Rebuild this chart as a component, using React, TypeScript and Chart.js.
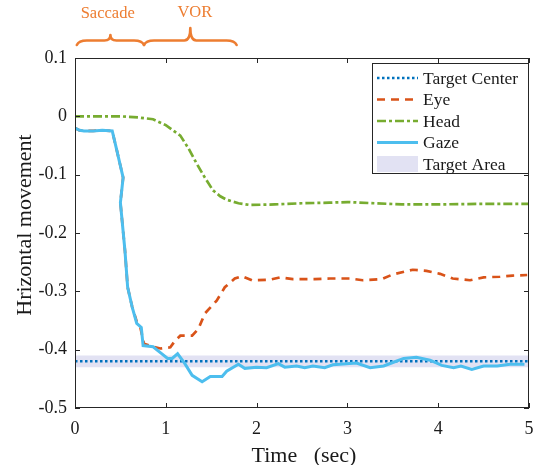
import React, { useEffect, useRef } from "react";
import { Chart, registerables } from "chart.js";

Chart.register(...registerables);

// ---- data ----
const gazeT = [0, 0.05, 0.1, 0.2, 0.3, 0.41, 0.46, 0.53, 0.5, 0.55, 0.58, 0.63, 0.68, 0.73, 0.75, 0.86, 0.94, 1.02, 1.07, 1.13, 1.21, 1.29, 1.4, 1.49, 1.62, 1.67, 1.8, 1.87, 2.0, 2.11, 2.24, 2.31, 2.44, 2.53, 2.62, 2.75, 2.84, 3.1, 3.25, 3.4, 3.5, 3.62, 3.76, 3.91, 4.04, 4.17, 4.25, 4.37, 4.5, 4.65, 4.79, 4.95];
const gazeY = [-0.02, -0.024, -0.025, -0.025, -0.024, -0.025, -0.058, -0.105, -0.148, -0.23, -0.293, -0.327, -0.355, -0.362, -0.393, -0.395, -0.405, -0.415, -0.415, -0.407, -0.424, -0.444, -0.455, -0.446, -0.446, -0.437, -0.425, -0.432, -0.43, -0.431, -0.424, -0.43, -0.428, -0.431, -0.428, -0.431, -0.426, -0.423, -0.431, -0.428, -0.422, -0.415, -0.413, -0.418, -0.427, -0.431, -0.428, -0.434, -0.428, -0.428, -0.425, -0.425];

const eyeT = [0, 0.05, 0.1, 0.2, 0.3, 0.41, 0.46, 0.53, 0.5, 0.55, 0.58, 0.63, 0.68, 0.72, 0.76, 0.86, 0.94, 1.05, 1.1, 1.16, 1.29, 1.36, 1.43, 1.56, 1.65, 1.76, 1.84, 1.95, 2.15, 2.26, 2.4, 2.64, 2.81, 3.03, 3.17, 3.38, 3.5, 3.72, 3.87, 4.02, 4.16, 4.35, 4.5, 4.68, 4.82, 4.98];
const eyeY = [-0.02, -0.024, -0.025, -0.025, -0.024, -0.025, -0.058, -0.105, -0.148, -0.23, -0.293, -0.327, -0.352, -0.362, -0.39, -0.395, -0.398, -0.396, -0.385, -0.376, -0.376, -0.364, -0.338, -0.316, -0.293, -0.278, -0.274, -0.281, -0.28, -0.276, -0.279, -0.279, -0.278, -0.278, -0.281, -0.279, -0.271, -0.263, -0.265, -0.27, -0.278, -0.281, -0.276, -0.275, -0.273, -0.272];

const headT = [0, 0.3, 0.5, 0.7, 0.86, 1.0, 1.16, 1.25, 1.34, 1.43, 1.52, 1.6, 1.67, 1.8, 1.93, 2.2, 2.5, 2.8, 3.0, 3.3, 3.6, 4.0, 4.5, 5.0];
const headY = [0, 0, 0, -0.002, -0.005, -0.015, -0.033, -0.055, -0.081, -0.105, -0.127, -0.137, -0.143, -0.149, -0.152, -0.151, -0.149, -0.148, -0.147, -0.149, -0.151, -0.151, -0.15, -0.15];

const targetT = [0, 5];
const targetCenter = -0.42;
const targetAreaTop = -0.41;
const targetAreaBottom = -0.43;

const xTicks = [0, 1, 2, 3, 4, 5];
const yTicks = [-0.5, -0.4, -0.3, -0.2, -0.1, 0, 0.1];

const legendLabels = ["Target Center", "Eye", "Head", "Gaze", "Target Area"];
const xTitle = "Time   (sec)";
const yTitle = "Hrizontal movement";

// annotation (data-space x): [start, tip, end]
const braceSaccade = [0.02, 0.39, 0.76];
const braceVOR = [0.76, 1.27, 1.78];
const saccadeLabelX = 0.36;
const vorLabelX = 1.32;

const C_TARGET = "#0072BD";
const C_EYE = "#D95319";
const C_HEAD = "#77AC30";
const C_GAZE = "#4DBEEE";
const C_AREA = "#e2e2f3";
const C_ANNOT = "#ED7D31";
const C_TEXT = "#1a1a1a";
const FONT = "'Liberation Serif', 'Times New Roman', serif";

const pts = (t: number[], y: number[]) => t.map((v, i) => ({ x: v, y: y[i] }));
const flat = (t: number[], v: number) => t.map((x) => ({ x, y: v }));

const overlayPlugin = {
  id: "overlay",
  afterDatasetsDraw(chart: any) {
    const { ctx, chartArea: a, scales } = chart;
    const xs = scales.x, ys = scales.y;
    ctx.save();
    // box
    ctx.strokeStyle = "#262626";
    ctx.lineWidth = 1;
    ctx.strokeRect(a.left + 0.5, a.top + 0.5, a.right - a.left - 1, a.bottom - a.top - 1);
    const tl = 5;
    ctx.beginPath();
    xTicks.forEach((v) => {
      const px = Math.round(xs.getPixelForValue(v)) + 0.5;
      ctx.moveTo(px, a.bottom);
      ctx.lineTo(px, a.bottom - tl);
      ctx.moveTo(px, a.top);
      ctx.lineTo(px, a.top + tl);
    });
    yTicks.forEach((v) => {
      const py = Math.round(ys.getPixelForValue(v)) + 0.5;
      ctx.moveTo(a.left, py);
      ctx.lineTo(a.left + tl, py);
      ctx.moveTo(a.right, py);
      ctx.lineTo(a.right - tl, py);
    });
    ctx.stroke();

    // axis titles
    ctx.fillStyle = C_TEXT;
    ctx.font = `22px ${FONT}`;
    ctx.textAlign = "center";
    ctx.textBaseline = "alphabetic";
    ctx.fillText(xTitle, (a.left + a.right) / 2 + 2, 462);
    ctx.save();
    ctx.translate(31, (a.top + a.bottom) / 2 - 8);
    ctx.rotate(-Math.PI / 2);
    ctx.fillText(yTitle, 0, 0);
    ctx.restore();

    // legend
    const lx = a.right - 157, ly = a.top + 5, lw = 156, lh = 110;
    ctx.fillStyle = "#fff";
    ctx.fillRect(lx, ly, lw, lh);
    ctx.strokeStyle = "#262626";
    ctx.lineWidth = 1;
    ctx.strokeRect(lx + 0.5, ly + 0.5, lw, lh);
    const rowY = (i: number) => ly + 15 + i * 21.5;
    const s0 = lx + 5, s1 = lx + 46;
    const styles = [
      { c: C_TARGET, d: [2.5, 2.5], w: 2.5 },
      { c: C_EYE, d: [8, 6], w: 2.5 },
      { c: C_HEAD, d: [9, 3, 3, 3], w: 2.5 },
      { c: C_GAZE, d: [], w: 3 },
    ];
    styles.forEach((s, i) => {
      ctx.beginPath();
      ctx.strokeStyle = s.c;
      ctx.lineWidth = s.w;
      ctx.setLineDash(s.d);
      ctx.moveTo(s0, rowY(i));
      ctx.lineTo(s1, rowY(i));
      ctx.stroke();
    });
    ctx.setLineDash([]);
    ctx.fillStyle = C_AREA;
    ctx.fillRect(s0, rowY(4) - 8, s1 - s0, 16);
    ctx.fillStyle = C_TEXT;
    ctx.font = `17.5px ${FONT}`;
    ctx.textBaseline = "middle";
    ctx.textAlign = "left";
    legendLabels.forEach((t, i) => ctx.fillText(t, s1 + 5, rowY(i) + 1));

    // braces
    const drawBrace = (b: number[], yt: number) => {
      const x1 = xs.getPixelForValue(b[0]);
      const xm = xs.getPixelForValue(b[1]);
      const x2 = xs.getPixelForValue(b[2]);
      const yb = 45, ym = 40.5, qe = 10, qm = 6;
      ctx.beginPath();
      ctx.moveTo(x1, yb);
      ctx.quadraticCurveTo(x1 + 2, ym, x1 + qe, ym);
      ctx.lineTo(xm - qm, ym);
      ctx.quadraticCurveTo(xm, ym, xm, yt);
      ctx.quadraticCurveTo(xm, ym, xm + qm, ym);
      ctx.lineTo(x2 - qe, ym);
      ctx.quadraticCurveTo(x2 - 2, ym, x2, yb);
      ctx.stroke();
    };
    ctx.strokeStyle = C_ANNOT;
    ctx.lineWidth = 2.6;
    ctx.lineJoin = "round";
    ctx.lineCap = "round";
    drawBrace(braceSaccade, 35);
    drawBrace(braceVOR, 28);
    ctx.fillStyle = C_ANNOT;
    ctx.font = `16.5px ${FONT}`;
    ctx.textAlign = "center";
    ctx.textBaseline = "middle";
    ctx.fillText("Saccade", xs.getPixelForValue(saccadeLabelX), 14);
    ctx.fillText("VOR", xs.getPixelForValue(vorLabelX), 13);
    ctx.restore();
  },
};

export default function App() {
  const ref = useRef<HTMLCanvasElement | null>(null);
  useEffect(() => {
    if (!ref.current) return;
    const chart = new Chart(ref.current, {
      type: "line",
      data: {
        datasets: [
          {
            label: "Gaze",
            data: pts(gazeT, gazeY),
            borderColor: C_GAZE,
            borderWidth: 3,
            pointRadius: 0,
            order: 0,
          },
          {
            label: "Eye",
            data: pts(eyeT, eyeY),
            borderColor: C_EYE,
            borderWidth: 2.7,
            borderDash: [8, 6],
            pointRadius: 0,
            order: 1,
          },
          {
            label: "Head",
            data: pts(headT, headY),
            borderColor: C_HEAD,
            borderWidth: 2.7,
            borderDash: [9, 3, 3, 3],
            pointRadius: 0,
            order: 2,
          },
          {
            label: "Target Center",
            data: flat(targetT, targetCenter),
            borderColor: C_TARGET,
            borderWidth: 2.5,
            borderDash: [2.5, 2.5],
            pointRadius: 0,
            order: 3,
          },
          {
            label: "Target Area",
            data: flat(targetT, targetAreaTop),
            borderWidth: 0,
            borderColor: "rgba(0,0,0,0)",
            backgroundColor: C_AREA,
            fill: "+1",
            pointRadius: 0,
            order: 4,
          },
          {
            label: "Target Area bottom",
            data: flat(targetT, targetAreaBottom),
            borderWidth: 0,
            borderColor: "rgba(0,0,0,0)",
            pointRadius: 0,
            fill: false,
            order: 5,
          },
        ],
      },
      options: {
        animation: false,
        responsive: false,
        parsing: false,
        layout: { padding: { top: 58, right: 6, left: 0, bottom: 0 } },
        plugins: { legend: { display: false }, tooltip: { enabled: false } },
        elements: { line: { tension: 0 } },
        scales: {
          x: {
            type: "linear",
            min: 0,
            max: 5,
            afterFit: (s: any) => { s.height = 57; s.paddingLeft = 0; s.paddingRight = 0; },
            afterBuildTicks: (s: any) => { s.ticks = xTicks.map((v) => ({ value: v })); },
            grid: { display: false, drawTicks: false },
            border: { display: false },
            ticks: {
              padding: 10,
              color: C_TEXT,
              font: { family: FONT, size: 18 },
              callback: (v: any) => String(v),
            },
          },
          y: {
            type: "linear",
            min: -0.5,
            max: 0.1,
            afterFit: (s: any) => { s.width = 75; s.paddingTop = 0; s.paddingBottom = 0; },
            afterBuildTicks: (s: any) => { s.ticks = yTicks.map((v) => ({ value: v })); },
            grid: { display: false, drawTicks: false },
            border: { display: false },
            ticks: {
              padding: 8,
              color: C_TEXT,
              font: { family: FONT, size: 18 },
              callback: (v: any) => {
                const n = Math.round(Number(v) * 10) / 10;
                return n === 0 ? "0" : String(n);
              },
            },
          },
        },
      },
      plugins: [overlayPlugin],
    } as any);
    return () => chart.destroy();
  }, []);
  return (
    <div style={{ position: "absolute", left: 0, top: 0, width: 535, height: 465, background: "#fff" }}>
      <canvas ref={ref} width={535} height={465} style={{ display: "block" }} />
    </div>
  );
}
